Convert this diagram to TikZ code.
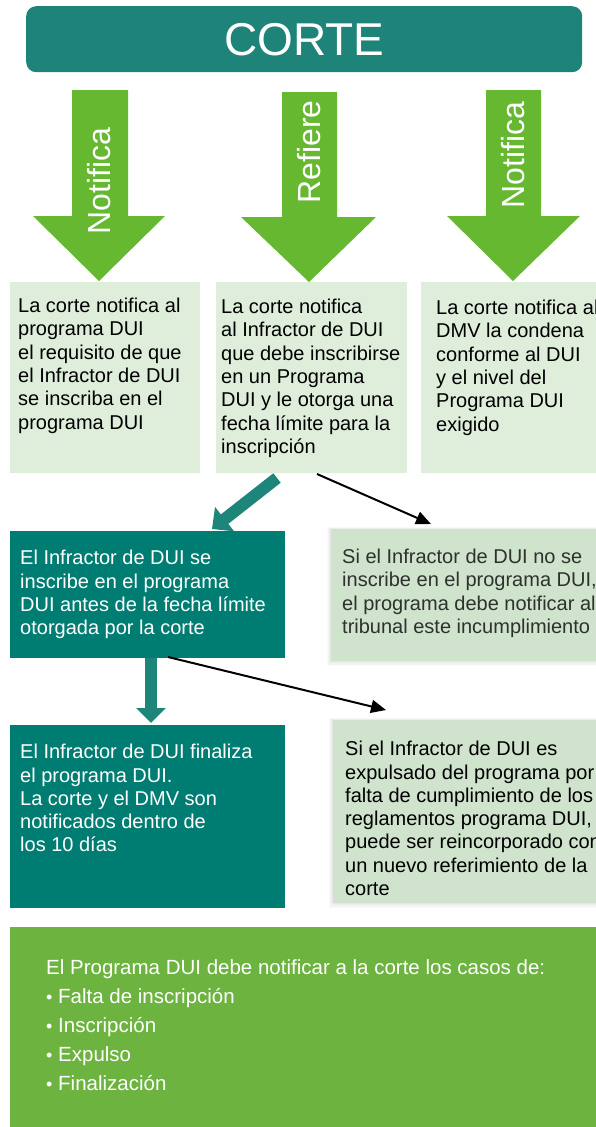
\documentclass[tikz,border=0pt]{standalone}
\usepackage{fontspec}
\setmainfont{Liberation Sans}
\usetikzlibrary{arrows.meta}
\definecolor{hdrteal}{RGB}{30,132,122}
\definecolor{arrgreen}{RGB}{101,184,48}
\definecolor{lgA}{RGB}{222,238,219}
\definecolor{lgB}{RGB}{207,227,205}
\definecolor{boxteal}{RGB}{0,125,114}
\definecolor{arrteal}{RGB}{30,133,122}
\definecolor{botgreen}{RGB}{109,179,63}
\definecolor{darktxt}{RGB}{45,50,45}
\newcommand{\bul}{{\fontsize{18}{18}\selectfont•}}
\tikzset{
  boxA/.style={fill=lgA, draw=none, inner sep=0, anchor=north west},
  boxB/.style={fill=lgB, draw=none, inner sep=0, anchor=north west},
  boxT/.style={fill=boxteal, draw=none, inner sep=0, anchor=north west},
  boxG/.style={fill=botgreen, draw=none, inner sep=0, anchor=north west},
  txt/.style={inner sep=0, anchor=north west, align=left, font=\fontsize{20}{23.3}\selectfont},
  vlabel/.style={inner sep=0, rotate=90, text=white, font=\fontsize{32}{36}\selectfont},
  blockarrow/.style={fill=arrgreen, draw=none},
  tealarrow/.style={draw=arrteal, line width=12pt, -{Triangle[length=16pt,width=30pt]}},
  blackarrow/.style={draw=black, line width=2pt, -{Triangle[length=15pt,width=13pt]}},
  shadowbox/.style={fill=black, opacity=0.025, draw=none}
}
\begin{document}
\begin{tikzpicture}[x=1pt,y=-1pt]
\useasboundingbox (0,0) rectangle (596,1127);
\clip (0,0) rectangle (596,1127);

% header
\node[fill=hdrteal, rounded corners=10pt, minimum width=556, minimum height=66, inner sep=0, anchor=north west] (corte) at (26,6) {};
\node[text=white, inner sep=0, font=\fontsize{46}{50}\selectfont] (cortetxt) at (corte.center) {CORTE};

% green block arrows
\fill[blockarrow] (72,90) -- (128,90) -- (128,216) -- (165,216) -- (99,281) -- (33,216) -- (72,216) -- cycle;
\fill[blockarrow] (282,92) -- (337,92) -- (337,217) -- (376,217) -- (309,282) -- (241,217) -- (282,217) -- cycle;
\fill[blockarrow] (486,90) -- (541,90) -- (541,216) -- (580,216) -- (513,281) -- (447,216) -- (486,216) -- cycle;
\node[vlabel] (l1) at (99,181) {Notifica};
\node[vlabel] (l2) at (309,152) {Refiere};
\node[vlabel] (l3) at (513,155) {Notifica};

% row 1
\node[boxA, minimum width=190, minimum height=191] (b1) at (10,282) {};
\node[boxA, minimum width=191, minimum height=191] (b2) at (216,282) {};
\node[boxA, minimum width=180, minimum height=191] (b3) at (421,282) {};
\node[txt] (t1) at (18,298) {La corte notifica al\\programa DUI\\el requisito de que\\el Infractor de DUI\\se inscriba en el\\programa DUI};
\node[txt] (t2) at (221,299) {La corte notifica\\al Infractor de DUI\\que debe inscribirse\\en un Programa\\DUI y le otorga una\\fecha límite para la\\inscripción};
\node[txt] (t3) at (436,300) {La corte notifica al\\DMV la condena\\conforme al DUI\\y el nivel del\\Programa DUI\\exigido};

% row 2
\node[boxT, minimum width=275, minimum height=127] (c1) at (10,531) {};
\foreach \d in {1,2,3,4}{
  \fill[shadowbox] (331-\d,529-0.5*\d) rectangle (601,661+1.2*\d);
}
\node[boxB, minimum width=270, minimum height=132] (c2) at (331,529) {};
\node[txt, text=darktxt] (u2) at (342,549) {Si el Infractor de DUI no se\\inscribe en el programa DUI,\\el programa debe notificar al\\tribunal este incumplimiento};
\node[txt, text=white] (u1) at (20,550) {El Infractor de DUI se\\inscribe en el programa\\DUI antes de la fecha límite\\otorgada por la corte};

% row 3
\node[boxT, minimum width=275, minimum height=183] (d1) at (10,725) {};
\foreach \d in {1,2,3,4}{
  \fill[shadowbox] (333-\d,720-0.5*\d) rectangle (601,903+1.2*\d);
}
\node[boxB, minimum width=268, minimum height=183] (d2) at (333,720) {};
\node[txt, text=white] (v1) at (20,744) {El Infractor de DUI finaliza\\el programa DUI.\\La corte y el DMV son\\notificados dentro de\\los 10 días};
\node[txt, text=black] (v2) at (345,741) {Si el Infractor de DUI es\\expulsado del programa por\\falta de cumplimiento de los\\reglamentos programa DUI,\\puede ser reincorporado con\\un nuevo referimiento de la\\corte};

% bottom
\node[boxG, minimum width=591, minimum height=205] (e1) at (10,927) {};
\node[txt, text=white, font=\fontsize{20.5}{29.2}\selectfont] (w1) at (46,959) {El Programa DUI debe notificar a la corte los casos de:\\\bul\ Falta de inscripción\\\bul\ Inscripción\\\bul\ Expulso\\\bul\ Finalización};

% connectors
\coordinate (p1) at (277,478);
\coordinate (p2) at (212,529);
\draw[tealarrow] (p1) -- (p2);
\coordinate (q1) at (317,474);
\coordinate (q2) at (431,524);
\draw[blackarrow] (q1) -- (q2);
\coordinate (r1) at (151,658);
\coordinate (r2) at (151,723);
\draw[tealarrow, -{Triangle[length=15pt,width=29pt]}] (r1) -- (r2);
\coordinate (s1) at (168,657);
\coordinate (s2) at (386,710);
\draw[blackarrow] (s1) -- (s2);
\end{tikzpicture}
\end{document}
